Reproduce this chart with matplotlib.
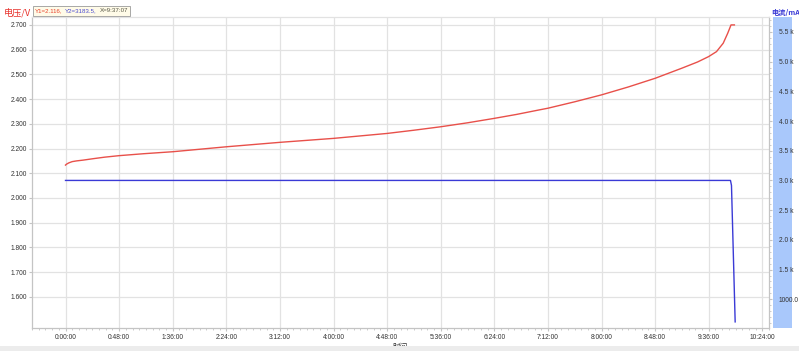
import matplotlib
matplotlib.use('Agg')
import matplotlib.pyplot as plt
from matplotlib.patches import Rectangle
from matplotlib.ticker import MultipleLocator, FixedLocator, FuncFormatter

plt.rcParams['font.family'] = ['Liberation Sans', 'Noto Sans CJK SC', 'DejaVu Sans']

# 电压曲线 (时间: 分钟)
t_volt = [0, 1, 3, 6, 10, 15.7, 25, 35, 47.7, 70, 96, 120, 144, 168, 192, 216, 240,
          264, 288, 312, 336, 360, 384, 404, 424, 432, 456, 480, 504, 528, 552,
          566, 576, 583, 589, 593, 596, 599]
volt = [2.133, 2.137, 2.142, 2.147, 2.150, 2.153, 2.159, 2.165, 2.171, 2.179, 2.187,
        2.197, 2.207, 2.216, 2.225, 2.233, 2.241, 2.251, 2.261, 2.274, 2.288, 2.304,
        2.322, 2.338, 2.356, 2.363, 2.389, 2.417, 2.449, 2.484, 2.525, 2.550, 2.572,
        2.592, 2.626, 2.666, 2.700, 2.700]

# 电流曲线 (mA)
t_curr = [0, 595.5, 596.4, 599.7]
curr = [3000, 3000, 2916, 620]

x_major = list(range(0, 625, 48))
x_labels = ['%d:%02d:00' % (m // 60, m % 60) for m in x_major]
v_ticks = [1.6, 1.7, 1.8, 1.9, 2.0, 2.1, 2.2, 2.3, 2.4, 2.5, 2.6, 2.7]
i_ticks = [1000, 1500, 2000, 2500, 3000, 3500, 4000, 4500, 5000, 5500]
i_labels = ['1000.0', '1.5 k', '2.0 k', '2.5 k', '3.0 k', '3.5 k', '4.0 k', '4.5 k', '5.0 k', '5.5 k']

W, H = 799, 351
fig = plt.figure(figsize=(W / 100, H / 100), dpi=100)
fig.patch.set_facecolor('white')

def px(x0, y0, x1, y1):
    return [x0 / W, 1 - y1 / H, (x1 - x0) / W, (y1 - y0) / H]

ax = fig.add_axes(px(32, 17, 769, 328))
ax2 = ax.twinx()

spine_c = '#c4c4c4'
grid_c = '#e2e2e2'
tick_c = '#333333'
fs = 4.8

ax.plot(t_volt, volt, color='#e8504a', lw=1.0, zorder=3)
ax2.plot(t_curr, curr, color='#3a3ad6', lw=1.0, zorder=3)

ax.set_xlim(-30, 630)
ax.set_ylim(1.474, 2.732)
ax2.set_ylim(517, 5750)

ax.xaxis.set_major_locator(FixedLocator(x_major))
ax.xaxis.set_minor_locator(MultipleLocator(6))
ax.set_xticklabels(x_labels)
ax.yaxis.set_major_locator(FixedLocator(v_ticks))
ax.yaxis.set_major_formatter(FuncFormatter(lambda v, p: '%.3f' % v))
ax2.yaxis.set_major_locator(FixedLocator(i_ticks))
ax2.yaxis.set_minor_locator(MultipleLocator(100))
ax2.set_yticklabels(i_labels)

ax.grid(True, which='major', color=grid_c, lw=0.9)
ax.set_axisbelow(True)

for a in (ax, ax2):
    for s in a.spines.values():
        s.set_color(spine_c)
        s.set_linewidth(0.8)
    a.spines['top'].set_color(grid_c)

ax.tick_params(axis='x', which='major', length=2.5, color=spine_c, labelsize=fs,
               labelcolor=tick_c, pad=2)
ax.tick_params(axis='x', which='minor', length=1.5, color=spine_c)
ax.tick_params(axis='y', which='major', length=2.2, color=spine_c, labelsize=fs,
               labelcolor=tick_c, pad=1.2)
ax2.tick_params(axis='y', which='major', length=2.5, color=spine_c, labelsize=fs,
                labelcolor=tick_c, pad=4.6)
ax2.tick_params(axis='y', which='minor', length=1.5, color=spine_c)

# 右侧蓝色条 (画在坐标轴下面, 刻度文字在上)
fig.patches.append(Rectangle((773 / W, 1 - 328 / H), 19 / W, 311 / H,
                             transform=fig.transFigure, facecolor='#a9c8fb',
                             edgecolor='none', zorder=-1))

# 坐标轴标题
fig.text(4 / W, 1 - 13 / H, '电压/V', color='#e8302a', fontsize=6.6,
         family=['Noto Sans CJK SC', 'DejaVu Sans'], va='center', ha='left')
fig.text(771 / W, 1 - 12 / H, '电流/mA', color='#3a3ad6', fontsize=5.2,
         family=['Noto Sans CJK SC', 'DejaVu Sans'], weight='bold',
         va='center', ha='left')

# 光标读数框
fig.patches.append(Rectangle((33 / W, 1 - 15.5 / H), 97 / W, 9 / H,
                             transform=fig.transFigure, facecolor='#fffbe8',
                             edgecolor='#9a9a9a', lw=0.6, zorder=1))
fig.text(35 / W, 1 - 11 / H, 'Y1=2.116,', color='#e8402a', fontsize=4.4,
         va='center', ha='left', zorder=2)
fig.text(65 / W, 1 - 11 / H, 'Y2=3183.5,', color='#4a4ad0', fontsize=4.4,
         va='center', ha='left', zorder=2)
fig.text(100 / W, 1 - 11 / H, 'X=9:37:07', color='#555544', fontsize=4.4,
         va='center', ha='left', zorder=2)

# 底部时间标题与灰色条
fig.text(400 / W, 1 - 347.5 / H, '时间', color='#333333', fontsize=5.5,
         family=['Noto Sans CJK SC', 'DejaVu Sans'], va='center', ha='center', zorder=1)
fig.patches.append(Rectangle((0, 0), 1, 5.5 / H, transform=fig.transFigure,
                             facecolor='#ececec', edgecolor='none', zorder=5))

fig.savefig('out.png', dpi=100)
